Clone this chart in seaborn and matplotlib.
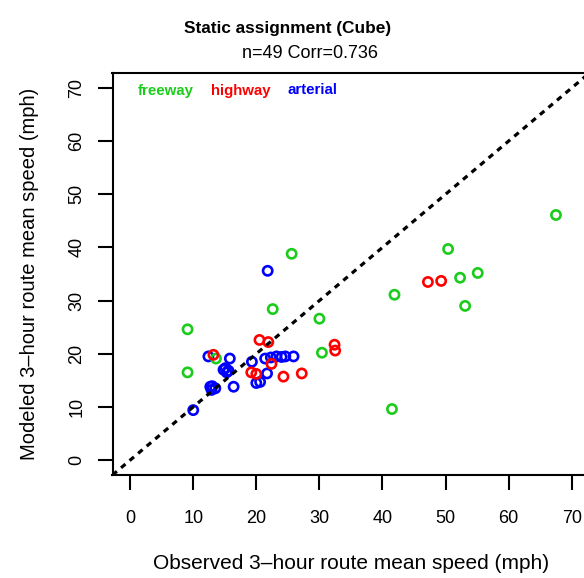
import numpy as np
import pandas as pd
import matplotlib
matplotlib.use("Agg")
import matplotlib.pyplot as plt
from matplotlib.lines import Line2D
import seaborn as sns

# observed vs modeled 3-hour route mean speed (mph)
freeway_obs = [67.5, 50.4, 52.3, 55.1, 53.1, 41.9, 41.5, 25.6, 22.6, 30.0, 9.1, 30.4, 9.1, 13.6]
freeway_mod = [46.1, 39.7, 34.3, 35.2, 29.0, 31.1, 9.6, 38.8, 28.4, 26.6, 24.6, 20.2, 16.5, 19.1]
highway_obs = [47.2, 49.3, 32.4, 32.5, 20.5, 21.9, 22.4, 19.2, 20.0, 24.3, 27.2, 13.2]
highway_mod = [33.5, 33.7, 21.7, 20.6, 22.6, 22.2, 18.1, 16.5, 16.2, 15.7, 16.3, 19.8]
arterial_obs = [21.8, 12.4, 15.8, 15.1, 15.6, 14.8, 15.3, 12.7, 13.5, 13.0, 12.9, 16.4,
                19.3, 21.4, 22.3, 23.2, 24.0, 24.6, 25.9, 21.7, 20.6, 20.0, 10.0]
arterial_mod = [35.6, 19.5, 19.1, 17.3, 16.8, 17.0, 16.5, 13.8, 13.5, 13.9, 13.2, 13.8,
                18.5, 19.1, 19.3, 19.5, 19.4, 19.5, 19.5, 16.3, 14.7, 14.5, 9.4]

road_types = ["freeway", "highway", "arterial"]
colors = {"freeway": "#1ccc1c", "highway": "#ff0000", "arterial": "#0000ff"}
ticks = [0, 10, 20, 30, 40, 50, 60, 70]

df = pd.concat([
    pd.DataFrame({"observed": arterial_obs, "modeled": arterial_mod, "type": "arterial"}),
    pd.DataFrame({"observed": freeway_obs, "modeled": freeway_mod, "type": "freeway"}),
    pd.DataFrame({"observed": highway_obs, "modeled": highway_mod, "type": "highway"}),
], ignore_index=True)

sns.set_theme(style="white")
plt.rcParams["font.family"] = ["Liberation Sans", "DejaVu Sans"]
for key in ["text.color", "axes.labelcolor", "xtick.color", "ytick.color"]:
    plt.rcParams[key] = "black"

fig = plt.figure(figsize=(5.84, 5.78), dpi=100)
# R-style plot region, right edge runs past the figure like the reference
ax = fig.add_axes([112.5 / 584, (578 - 475) / 578, (589.4 - 112.5) / 584, (475 - 73) / 578])

sns.scatterplot(data=df, x="observed", y="modeled", hue="type", palette=colors,
                hue_order=road_types, marker="o", s=44, linewidth=1.9,
                legend=False, ax=ax)
# seaborn fills the markers; turn them into open circles coloured by type
coll = ax.collections[0]
coll.set_edgecolors([colors[t] for t in df["type"]])
coll.set_facecolors("none")

ax.axline((0, 0), slope=1, color="black", lw=2.3, ls=(0, (1.8, 1.7)))

ax.set_xlim(-2.8, 72.8)
ax.set_ylim(-2.8, 72.8)
ax.set_xticks(ticks)
ax.set_yticks(ticks)
ax.tick_params(axis="both", direction="out", length=10.5, width=1.5, color="black",
               labelsize=13, bottom=True, left=True)
ax.tick_params(axis="x", pad=15)
ax.tick_params(axis="y", pad=9)
for lbl in ax.get_yticklabels():
    lbl.set_rotation(90)
    lbl.set_va("center")
for sp in ax.spines.values():
    sp.set_visible(True)
    sp.set_color("black")
    sp.set_linewidth(1.5)

ax.set_xlabel("Observed 3–hour route mean speed (mph)", fontsize=15, labelpad=19)
ax.set_ylabel("Modeled 3–hour route mean speed (mph)", fontsize=14.5, labelpad=21)

handles = [Line2D([], [], linestyle="none") for _ in road_types]
ax.legend(handles, road_types, loc="upper left", ncol=3, frameon=False,
          labelcolor=[colors[t] for t in road_types], handlelength=0, handletextpad=0,
          columnspacing=1.15, prop={"weight": "bold", "size": 10.8},
          bbox_to_anchor=(0.03, 1.0), borderaxespad=0.3)

fig.text(288 / 584, 1 - 28 / 578, "Static assignment (Cube)", ha="center", va="center",
         fontsize=12.4, fontweight="bold")
fig.text(310 / 584, 1 - 54 / 578, "n=49 Corr=0.736", ha="center", va="center", fontsize=13)

fig.savefig("out.png", dpi=100)
